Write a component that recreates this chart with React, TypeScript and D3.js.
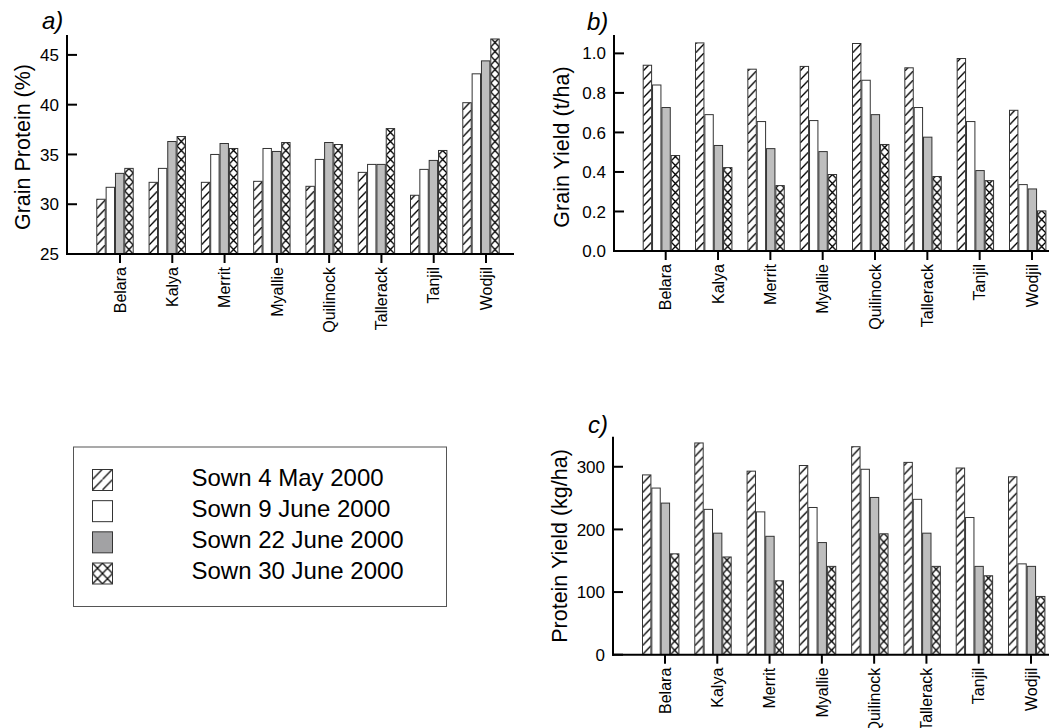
import React from "react";
import * as d3 from "d3";

const categories = ["Belara", "Kalya", "Merrit", "Myallie", "Quilinock", "Tallerack", "Tanjil", "Wodjil"];
const sowings = ["Sown 4 May 2000", "Sown 9 June 2000", "Sown 22 June 2000", "Sown 30 June 2000"];

// a) Grain Protein (%)
const proteinMay4 = [30.5, 32.2, 32.2, 32.3, 31.8, 33.2, 30.9, 40.2];
const proteinJun9 = [31.7, 33.6, 35.0, 35.6, 34.5, 34.0, 33.5, 43.1];
const proteinJun22 = [33.1, 36.3, 36.1, 35.3, 36.2, 34.0, 34.4, 44.4];
const proteinJun30 = [33.6, 36.8, 35.6, 36.2, 36.0, 37.6, 35.4, 46.6];

// b) Grain Yield (t/ha)
const yieldMay4 = [0.94, 1.053, 0.92, 0.934, 1.05, 0.927, 0.974, 0.712];
const yieldJun9 = [0.84, 0.69, 0.655, 0.66, 0.864, 0.726, 0.655, 0.336];
const yieldJun22 = [0.726, 0.534, 0.518, 0.503, 0.69, 0.576, 0.407, 0.314];
const yieldJun30 = [0.483, 0.422, 0.331, 0.387, 0.539, 0.377, 0.356, 0.203];

// c) Protein Yield (kg/ha)
const pyMay4 = [287, 338, 293, 302, 332, 307, 298, 284];
const pyJun9 = [266, 232, 228, 235, 296, 248, 219, 145];
const pyJun22 = [242, 194, 189, 179, 251, 194, 141, 141];
const pyJun30 = [161, 156, 118, 141, 193, 141, 126, 93];

const ticksA = [25, 30, 35, 40, 45];
const ticksB = [0, 0.2, 0.4, 0.6, 0.8, 1.0];
const ticksC = [0, 100, 200, 300];

const styles = ["diag", "white", "gray", "cross"];
const FONT = "Liberation Sans, Arial, Helvetica, sans-serif";

type PanelCfg = {
  id: string;
  series: number[][];
  yDomain: [number, number];
  yRange: [number, number];
  ticks: number[];
  fmt: (v: number) => string;
  axisX: number;
  axisEnd: number;
  pts: [number, number];
  offset: number;
  label: string;
  labelXY: [number, number];
  title: string;
  titleXY: [number, number];
};

const panels: PanelCfg[] = [
  {
    id: "a",
    series: [proteinMay4, proteinJun9, proteinJun22, proteinJun30],
    yDomain: [25, 47],
    yRange: [254, 35],
    ticks: ticksA,
    fmt: d3.format("d"),
    axisX: 67,
    axisEnd: 514,
    pts: [120, 486],
    offset: -5,
    label: "a)",
    labelXY: [42, 29],
    title: "Grain Protein (%)",
    titleXY: [22, 147],
  },
  {
    id: "b",
    series: [yieldMay4, yieldJun9, yieldJun22, yieldJun30],
    yDomain: [0, 1.093],
    yRange: [251, 35],
    ticks: ticksB,
    fmt: d3.format(".1f"),
    axisX: 614,
    axisEnd: 1049,
    pts: [665.7, 1032],
    offset: -4.3,
    label: "b)",
    labelXY: [587, 30],
    title: "Grain Yield (t/ha)",
    titleXY: [561.5, 147],
  },
  {
    id: "c",
    series: [pyMay4, pyJun9, pyJun22, pyJun30],
    yDomain: [0, 348],
    yRange: [654.7, 436.7],
    ticks: ticksC,
    fmt: d3.format("d"),
    axisX: 613,
    axisEnd: 1049,
    pts: [665, 1031],
    offset: -4.3,
    label: "c)",
    labelXY: [588, 433],
    title: "Protein Yield (kg/ha)",
    titleXY: [559, 546],
  },
];

const inner = d3.scaleBand<string>().domain(sowings).range([-18.2, 18.2]).paddingInner(0.1);

function Panel({ p }: { p: PanelCfg }) {
  const y = d3.scaleLinear().domain(p.yDomain).range(p.yRange);
  const x = d3.scalePoint<string>().domain(categories).range(p.pts);
  const base = y(p.yDomain[0]);
  const top = y(p.yDomain[1]);
  const bw = inner.bandwidth();
  const defs: React.ReactNode[] = [];
  const bars: React.ReactNode[] = [];
  categories.forEach((c, ci) => {
    sowings.forEach((s, si) => {
      const v = p.series[si][ci];
      const bx = (x(c) as number) + p.offset + (inner(s) as number);
      const by = y(v);
      const h = base - by;
      const st = styles[si];
      let fill = "#ffffff";
      if (st === "gray") fill = "#bebebe";
      if (st === "diag" || st === "cross") {
        const pid = `pat-${p.id}-${ci}-${si}`;
        defs.push(
          <pattern key={pid} id={pid} patternUnits="userSpaceOnUse" x={bx} y={base} width={bw} height={9}>
            <rect width={bw} height={9} fill="#fff" />
            {st === "diag" ? (
              <line x1={0} y1={9} x2={bw} y2={0} stroke="#000" strokeWidth={1.3} />
            ) : (
              <g stroke="#000" strokeWidth={1.3}>
                <line x1={0} y1={0} x2={bw} y2={9} />
                <line x1={bw} y1={0} x2={0} y2={9} />
              </g>
            )}
          </pattern>
        );
        fill = `url(#${pid})`;
      }
      bars.push(
        <rect key={`${ci}-${si}`} x={bx} y={by} width={bw} height={h} fill={fill} stroke="#333" strokeWidth={1} />
      );
    });
  });
  return (
    <g>
      <defs>{defs}</defs>
      {bars}
      {/* y axis */}
      <line x1={p.axisX} y1={top} x2={p.axisX} y2={base + 1} stroke="#000" strokeWidth={2} />
      {p.ticks.map((t) => (
        <g key={t}>
          <line x1={p.axisX} x2={p.axisX + 10} y1={y(t)} y2={y(t)} stroke="#000" strokeWidth={2} />
          <text x={p.axisX - 8} y={y(t)} dy="0.36em" textAnchor="end" fontSize={17} fontFamily={FONT}>
            {p.fmt(t)}
          </text>
        </g>
      ))}
      {/* x axis */}
      <line x1={p.axisX - 1} y1={base} x2={p.axisEnd} y2={base} stroke="#000" strokeWidth={2} />
      {categories.map((c) => (
        <g key={c}>
          <line x1={x(c)} x2={x(c)} y1={base} y2={base + 9} stroke="#000" strokeWidth={2} />
          <text
            transform={`translate(${x(c)},${base + 13}) rotate(-90)`}
            dy="0.36em"
            textAnchor="end"
            fontSize={16}
            fontFamily={FONT}
          >
            {c}
          </text>
        </g>
      ))}
      <text x={p.labelXY[0]} y={p.labelXY[1]} fontSize={24} fontStyle="italic" fontFamily={FONT}>
        {p.label}
      </text>
      <text
        transform={`translate(${p.titleXY[0]},${p.titleXY[1]}) rotate(-90)`}
        dy="0.36em"
        textAnchor="middle"
        fontSize={21.5}
        fontFamily={FONT}
      >
        {p.title}
      </text>
    </g>
  );
}

function Legend() {
  const rowY = d3.scalePoint<string>().domain(sowings).range([480, 573.5]);
  return (
    <g>
      <defs>
        <pattern id="leg-diag" patternUnits="userSpaceOnUse" x={92.5} y={490} width={10} height={10.5}>
          <rect width={10} height={10.5} fill="#fff" />
          <line x1={0} y1={10.5} x2={10} y2={0} stroke="#000" strokeWidth={1.2} />
        </pattern>
        <pattern id="leg-cross" patternUnits="userSpaceOnUse" x={92.5} y={563} width={10} height={10.5}>
          <rect width={10} height={10.5} fill="#fff" />
          <line x1={0} y1={0} x2={10} y2={10.5} stroke="#000" strokeWidth={1.2} />
          <line x1={10} y1={0} x2={0} y2={10.5} stroke="#000" strokeWidth={1.2} />
        </pattern>
      </defs>
      <rect x={73.5} y={447} width={373} height={159.5} fill="#fff" stroke="#555" strokeWidth={1} />
      {sowings.map((s, i) => {
        const cy = rowY(s) as number;
        const st = styles[i];
        const fill = st === "diag" ? "url(#leg-diag)" : st === "cross" ? "url(#leg-cross)" : st === "gray" ? "#a2a2a4" : "#fff";
        return (
          <g key={s}>
            <rect x={92.5} y={cy - 10.5} width={20} height={21} fill={fill} stroke="#333" strokeWidth={1} />
            <text x={191.5} y={cy + 5.5} fontSize={24} fontFamily={FONT}>
              {s}
            </text>
          </g>
        );
      })}
    </g>
  );
}

export default function App() {
  return (
    <svg
      width={1049}
      height={728}
      style={{ position: "absolute", left: 0, top: 0, background: "#fff" }}
    >
      <rect width={1049} height={728} fill="#fff" />
      {panels.map((p) => (
        <Panel key={p.id} p={p} />
      ))}
      <Legend />
    </svg>
  );
}
